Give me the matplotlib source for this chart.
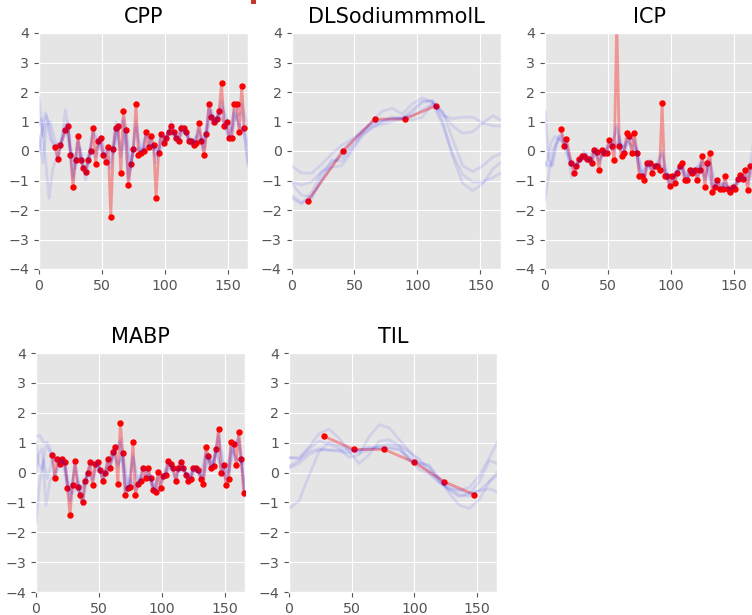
import matplotlib
matplotlib.use("Agg")
import matplotlib.pyplot as plt
from matplotlib.patches import Rectangle

plt.style.use("ggplot")

# ---------------- data ----------------
titles = ["CPP", "DLSodiummmolL", "ICP", "MABP", "TIL"]

cpp_x = [13, 15, 17, 21, 23, 25, 27, 29, 31, 33, 35, 37, 39, 41, 43, 45, 47, 49, 51, 53,
         55, 57, 59, 61, 63, 65, 67, 69, 71, 73, 75, 77, 79, 81, 83, 85, 87, 89, 91, 93,
         95, 97, 99, 101, 103, 105, 107, 109, 111, 113, 115, 117, 119, 121, 123, 125, 127, 129, 131, 133,
         135, 137, 139, 141, 143, 145, 147, 149, 151, 153, 155, 157, 159, 161, 163]
cpp_y = [0.15, -0.28, 0.21, 0.72, 0.86, -0.13, -1.23, -0.29, 0.51, -0.29, -0.57, -0.71, -0.29, 0.00, 0.79, -0.43, 0.35, 0.44, -0.15, -0.36,
         0.15, -2.23, 0.07, 0.79, 0.86, -0.73, 1.36, 0.72, -1.16, -0.44, 0.07, 1.58, -0.15, -0.08, 0.00, 0.64, 0.15, 0.51, 0.21, -1.59,
         -0.07, 0.57, 0.28, 0.44, 0.64, 0.86, 0.64, 0.44, 0.35, 0.79, 0.79, 0.64, 0.35, 0.35, 0.21, 0.28, 0.94, 0.35, -0.15, 0.57,
         1.58, 1.15, 1.00, 1.08, 1.36, 2.29, 0.86, 1.00, 0.44, 0.44, 1.58, 1.58, 0.64, 2.22, 0.79]

icp_x = cpp_x
icp_y = [0.73, 0.17, 0.39, -0.41, -0.74, -0.51, -0.28, -0.17, -0.17, -0.28, -0.28, -0.40, 0.05, -0.05, -0.63, 0.05, -0.07, -0.07, 0.38, 0.17,
         -0.29, 4.5, 0.17, -0.18, -0.07, 0.61, 0.50, -0.07, 0.61, -0.07, -0.86, -0.86, -0.98, -0.39, -0.39, -0.74, -0.51, -0.51, -0.63, 1.63,
         -0.86, -0.86, -1.18, -0.86, -1.08, -0.74, -0.51, -0.39, -0.98, -0.98, -0.63, -0.74, -0.63, -0.98, -0.63, -0.18, -1.21, -0.39, -0.07, -1.40,
         -1.21, -0.98, -1.30, -1.30, -0.86, -1.30, -1.40, -1.21, -1.30, -0.96, -0.83, -0.96, -0.63, -1.33, -0.52]

mabp_x = [13, 15, 17, 19, 21, 23, 25, 27, 29, 31, 33, 35, 37, 39, 41, 43, 45, 47, 49, 51,
          53, 55, 57, 59, 61, 63, 65, 67, 69, 71, 73, 75, 77, 79, 81, 83, 85, 87, 89, 91,
          93, 95, 97, 99, 101, 103, 105, 107, 109, 111, 113, 115, 117, 119, 121, 123, 125, 127, 129, 131,
          133, 135, 137, 139, 141, 143, 145, 147, 149, 151, 153, 155, 157, 159, 161, 163, 165]
mabp_y = [0.59, -0.19, 0.44, 0.30, 0.44, 0.35, -0.52, -1.43, -0.41, 0.40, -0.47, -0.76, -1.00, -0.28, -0.03, 0.35, -0.42, 0.30, 0.35, 0.07,
          -0.28, -0.03, 0.46, 0.16, 0.70, 0.84, -0.37, 1.65, 0.64, -0.76, -0.52, -0.47, 1.03, -0.76, -0.37, -0.28, 0.16, -0.17, 0.16, -0.17,
          -0.57, -0.66, 0.01, -0.51, -0.12, -0.09, 0.40, 0.30, 0.16, -0.28, 0.16, 0.35, 0.16, -0.08, -0.28, -0.22, 0.16, 0.16, 0.07, -0.22,
          -0.37, 0.84, 0.55, 0.16, 0.21, 0.78, 1.46, -0.03, 0.26, -0.42, -0.22, 1.03, 0.97, 0.26, 1.36, 0.45, -0.70]

sod_x = [13, 41, 66, 90, 115]
sod_y = [-1.69, 0.00, 1.08, 1.08, 1.54]

til_x = [28, 52, 76, 100, 124, 148]
til_y = [1.21, 0.77, 0.77, 0.34, -0.31, -0.74]

# sample-curve grids
grid_a = [0, 3, 6, 9, 13, 17, 21, 25, 29, 33, 37, 41, 45, 49, 53, 57, 61, 65, 69, 73, 77, 81,
          85, 89, 93, 97, 101, 105, 109, 113, 117, 121, 125, 129, 133, 137, 141, 145, 149, 153, 157, 161, 166]
grid_b = [0, 2, 5, 8, 11, 15, 19, 23, 27, 31, 35, 39, 43, 47, 51, 55, 59, 63, 67, 71, 75, 79,
          83, 87, 91, 95, 99, 103, 107, 111, 115, 119, 123, 127, 131, 135, 139, 143, 147, 151, 155, 159, 163, 166]
grid_s = [0, 8, 16, 24, 32, 40, 48, 56, 64, 72, 80, 88, 96, 104, 112, 120, 128, 136, 144, 152, 160, 166]

cpp_a1 = [1.8, 0.5, 1.2, 0.4, 0.2, 0.3, 0.9, 0.0, -0.3, -0.2, -0.8, 0.1, -0.2, 0.4, -0.3, -0.6, 0.8, -0.2, 0.6, -0.5, 1.0, 0.0,
          0.5, 0.4, -0.4, 0.5, 0.5, 0.8, 0.5, 0.7, 0.6, 0.4, 0.3, 0.4, 0.5, 1.2, 1.0, 1.7, 0.9, 0.5, 1.4, 1.6, 0.8]
cpp_a2 = [0.5, -0.4, 0.9, 1.0, 0.3, 0.1, 1.4, 0.2, -0.6, 0.1, -1.0, -0.1, 0.0, 0.5, -0.1, -0.4, 1.0, 0.0, 0.8, -0.6, 0.8, -0.1,
          0.6, 0.3, -0.2, 0.6, 0.3, 1.0, 0.3, 0.9, 0.7, 0.2, 0.5, 0.3, 0.7, 1.4, 0.9, 1.5, 1.1, 0.7, 1.2, 1.3, -0.5]
cpp_b1 = [0.9, 1.1, -0.2, -1.6, -0.6, -0.1, 0.4, 0.7, -0.9, 0.3, -0.4, -0.2, 0.6, 0.3, -0.1, 0.1, -0.1, 0.7, 1.0, -0.9, 0.1, 0.0,
          0.1, 0.2, 0.2, -0.1, 0.3, 0.6, 0.6, 0.4, 0.7, 0.4, 0.3, 0.8, 0.0, 1.4, 1.0, 1.3, 1.0, 0.5, 1.4, 0.8, 0.7, 0.2]
cpp_b2 = [0.0, 0.6, 1.3, 0.9, 0.2, -0.3, 0.5, 1.0, -1.0, 0.4, -0.6, -0.4, 0.7, 0.4, -0.2, 0.0, 0.1, 0.8, 1.1, -1.0, 0.0, 0.1,
          0.0, 0.3, 0.1, 0.0, 0.4, 0.7, 0.5, 0.3, 0.8, 0.3, 0.2, 0.7, 0.1, 1.6, 0.9, 1.2, 0.9, 0.4, 1.3, 0.9, 0.6, -0.4]

icp_a1 = [1.35, -0.3, -0.5, 0.2, 0.5, 0.2, -0.5, -0.4, -0.3, -0.3, -0.3, -0.1, 0.0, -0.1, 0.1, 0.9, 0.0, 0.4, 0.1, 0.0, -0.7, -0.5,
          -0.6, -0.5, 0.0, -0.8, -0.9, -0.7, -0.5, -0.9, -0.7, -0.8, -0.4, -0.6, -1.2, -1.0, -1.2, -1.2, -1.2, -1.0, -0.8, -1.0, 0.4]
icp_a2 = [-1.65, -0.8, 0.0, 0.3, 0.6, 0.3, -0.9, -0.6, -0.2, -0.1, -0.5, 0.1, -0.2, 0.1, 0.2, 0.8, -0.1, 0.3, 0.2, 0.1, -0.8, -0.4,
          -0.7, -0.4, -0.1, -0.9, -1.0, -0.6, -0.6, -1.0, -0.6, -0.9, -0.3, -0.5, -1.3, -1.1, -1.1, -1.3, -1.3, -0.9, -0.9, -1.1, -0.6]
icp_b1 = [-0.4, -0.5, -0.5, 0.1, 0.5, 0.2, -0.3, -0.6, -0.3, -0.2, -0.4, 0.0, -0.3, -0.1, 0.2, 0.0, 0.5, 0.0, 0.4, 0.4, -0.6, -0.8,
          -0.4, -0.5, -0.4, -0.7, -1.1, -0.9, -0.5, -0.8, -0.6, -0.6, -0.5, -0.9, -0.4, -1.1, -1.2, -1.0, -1.3, -1.2, -0.9, -0.8, -0.7, -0.2]
icp_b2 = [-0.5, -0.3, 0.3, 0.5, 0.4, 0.3, -0.2, -0.5, -0.4, 0.0, -0.3, 0.1, -0.4, 0.0, 0.3, 0.2, 0.3, 0.1, 0.5, 0.3, -0.7, -0.9,
          -0.3, -0.6, -0.5, -0.6, -1.2, -1.0, -0.6, -0.9, -0.7, -0.7, -0.4, -1.0, -0.3, -1.2, -1.3, -1.1, -1.4, -1.2, -1.0, -0.9, -0.8, -0.6]

mabp_a1 = [1.2, 1.25, 1.0, 1.0, 0.6, 0.3, 0.5, -0.3, -0.5, -0.3, -0.9, 0.0, -0.2, 0.4, -0.2, 0.4, 0.6, 0.2, 0.7, -0.5, 0.5, -0.3,
           0.1, 0.1, -0.5, -0.1, -0.1, 0.3, 0.1, 0.1, 0.1, -0.2, 0.1, 0.0, -0.1, 0.5, 0.3, 1.2, 0.2, 0.0, 0.9, 1.1, -0.6]
mabp_a2 = [-1.65, -0.3, 0.4, -0.2, 0.4, 0.5, 0.4, -0.5, -0.7, -0.5, -1.1, -0.1, -0.3, 0.3, -0.3, 0.3, 0.8, 0.3, 0.5, -0.6, 0.6, -0.4,
           0.2, 0.0, -0.6, -0.2, -0.2, 0.4, 0.2, 0.0, 0.2, -0.3, 0.2, 0.1, -0.2, 0.6, 0.2, 1.3, 0.1, -0.1, 0.8, 1.2, -0.8]
mabp_b1 = [0.0, 0.6, 0.8, -1.1, -0.3, 0.0, 0.4, 0.3, -1.0, 0.2, -0.6, -0.3, 0.3, 0.3, 0.0, 0.0, 0.3, 0.7, 1.0, -0.6, -0.2, -0.5,
           -0.2, -0.1, -0.1, -0.6, -0.3, -0.1, 0.3, -0.2, 0.3, 0.0, -0.1, 0.2, -0.2, 0.6, 0.2, 0.7, 0.2, -0.3, 0.9, 0.4, 0.5, -0.7]
mabp_b2 = [1.0, 0.3, 0.1, 0.9, 0.7, -0.1, 0.3, 0.4, -0.9, 0.3, -0.7, -0.2, 0.2, 0.4, 0.1, -0.1, 0.2, 0.8, 1.1, -0.7, -0.3, -0.6,
           -0.3, 0.0, -0.2, -0.7, -0.4, 0.0, 0.2, -0.3, 0.4, -0.1, -0.2, 0.1, -0.1, 0.7, 0.1, 0.8, 0.1, -0.2, 0.8, 0.5, 0.3, 0.3]

sod_s1 = [-0.5, -0.75, -0.75, -0.45, -0.1, 0.2, 0.4, 0.65, 0.9, 1.0, 1.1, 1.1, 1.4, 1.7, 1.7, 1.3, 0.85, 0.6, 0.65, 0.95, 1.2, 1.05]
sod_s2 = [-1.05, -1.15, -1.05, -0.7, -0.4, -0.2, 0.2, 0.6, 1.0, 1.35, 1.45, 1.25, 1.6, 1.8, 1.65, 1.2, 1.1, 1.15, 1.15, 0.95, 0.85, 0.85]
sod_s3 = [-1.5, -1.75, -1.6, -0.9, -0.3, -0.35, 0.1, 0.55, 0.8, 0.9, 1.0, 1.1, 1.05, 1.15, 1.6, 0.9, -0.1, -0.8, -1.05, -1.05, -0.9, -0.75]
sod_s4 = [-1.6, -1.8, -1.4, -0.7, -0.55, -0.5, 0.0, 0.5, 0.8, 1.0, 1.1, 1.15, 1.2, 1.4, 1.6, 1.35, 0.4, -0.5, -0.7, -0.5, -0.2, -0.1]
sod_s5 = [-1.1, -1.5, -1.55, -1.0, -0.5, 0.0, 0.35, 0.7, 0.95, 1.05, 1.15, 1.1, 1.3, 1.65, 1.7, 1.0, -0.2, -1.1, -1.35, -1.1, -0.6, -0.4]

til_s1 = [-1.2, -0.95, -0.1, 0.7, 1.0, 0.9, 0.8, 0.65, 0.75, 0.9, 0.95, 0.9, 0.7, 0.45, 0.1, -0.2, -0.45, -0.6, -0.7, -0.6, -0.55, -0.65]
til_s2 = [0.5, 0.45, 0.8, 1.05, 0.95, 0.8, 0.5, 0.6, 1.2, 1.6, 1.5, 1.1, 0.7, 0.35, 0.2, -0.2, -0.7, -1.1, -1.2, -0.9, -0.3, 0.0]
til_s3 = [0.15, 0.3, 0.6, 0.75, 0.75, 0.75, 0.75, 0.75, 0.8, 0.85, 0.85, 0.8, 0.4, 0.3, 0.25, -0.3, -0.6, -0.8, -0.7, -0.3, 0.4, 0.3]
til_s4 = [0.5, 0.5, 0.85, 1.3, 1.45, 1.15, 0.7, 0.3, 0.6, 1.05, 1.1, 0.9, 0.45, 0.1, -0.05, -0.35, -0.55, -0.6, -0.5, -0.1, 0.5, 1.0]
til_s5 = [0.2, 0.4, 0.7, 0.8, 0.75, 0.7, 0.65, 0.75, 0.85, 0.8, 0.8, 0.75, 0.5, 0.3, 0.0, -0.3, -0.55, -0.75, -0.8, -0.6, -0.3, -0.1]

x_ticks = [0, 50, 100, 150]
y_ticks = [-4, -3, -2, -1, 0, 1, 2, 3, 4]

# ---------------- figure ----------------
W, H = 752, 615
fig = plt.figure(figsize=(W / 100, H / 100), dpi=100)

# small clipped mark at the top edge of the original image
fig.patches.append(Rectangle((251 / W, 1 - 4 / H), 5 / W, 4 / H, transform=fig.transFigure,
                             facecolor="#c0392b", edgecolor="none"))

# axes boxes in pixels: left, top, right, bottom
boxes = [(39, 33, 248, 269), (291.5, 33, 500.5, 269), (545, 33, 754, 269),
         (36, 353, 245, 592), (289, 353, 497, 592)]

panels = [
    (cpp_x, cpp_y, [(grid_a, cpp_a1), (grid_a, cpp_a2), (grid_b, cpp_b1), (grid_b, cpp_b2)]),
    (sod_x, sod_y, [(grid_s, s) for s in (sod_s1, sod_s2, sod_s3, sod_s4, sod_s5)]),
    (icp_x, icp_y, [(grid_a, icp_a1), (grid_a, icp_a2), (grid_b, icp_b1), (grid_b, icp_b2)]),
    (mabp_x, mabp_y, [(grid_a, mabp_a1), (grid_a, mabp_a2), (grid_b, mabp_b1), (grid_b, mabp_b2)]),
    (til_x, til_y, [(grid_s, s) for s in (til_s1, til_s2, til_s3, til_s4, til_s5)]),
]

for (l, t, r, b), title, (px, py, samples) in zip(boxes, titles, panels):
    ax = fig.add_axes([l / W, 1 - b / H, (r - l) / W, (b - t) / H])
    ax.plot(px, py, color="red", alpha=0.35, lw=2, zorder=2)
    ax.plot(px, py, "o", color="red", ms=3.6, zorder=3)
    for gx, gy in samples:
        assert len(gx) == len(gy), (title, len(gx), len(gy))
        ax.plot(gx, gy, color="blue", alpha=0.09, lw=2.0, zorder=4)
    ax.set_xlim(0, 166)
    ax.set_ylim(-4, 4)
    ax.set_xticks(x_ticks)
    ax.set_yticks(y_ticks)
    ax.tick_params(labelsize=10.2)
    ax.set_title(title, fontsize=15, pad=7)

fig.savefig("out.png", dpi=100)
